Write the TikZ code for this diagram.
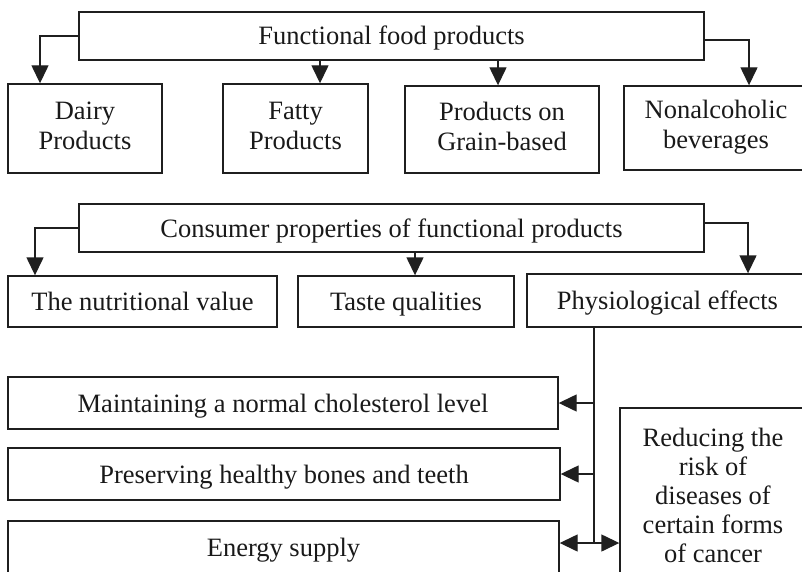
\documentclass[tikz,border=0pt]{standalone}
\usepackage{fontspec}
\setmainfont{Liberation Serif}
\usetikzlibrary{arrows.meta}
\begin{document}
\begin{tikzpicture}[x=1pt,y=-1pt,
  box/.style={draw=black!88, line width=1.4pt, inner sep=0pt, align=center,
    font=\fontsize{26.5}{30}\selectfont, text=black!90},
  one/.style={text height=18pt, text depth=0pt},
  arr/.style={draw=black!88, line width=1.4pt, -{Triangle[length=18pt,width=17pt]}},
  ln/.style={draw=black!88, line width=1.4pt}]
\useasboundingbox (0,0) rectangle (802,572);
\clip (0,0) rectangle (802,572);
% top level
\node[box,one,minimum width=625pt,minimum height=48pt] (ffp) at (391.5,36) {Functional food products};
\node[box,minimum width=154pt,minimum height=89pt] (dairy) at (85,128.5) {\strut Dairy\\Products\strut};
\node[box,minimum width=145pt,minimum height=89pt] (fatty) at (295.5,128.5) {\strut Fatty\\Products\strut};
\node[box,minimum width=194pt,minimum height=87pt] (grain) at (502,129.5) {\strut Products on\\Grain-based\strut};
\node[box,minimum width=184pt,minimum height=84pt] (nonalc) at (716,128) {\strut Nonalcoholic\\beverages\strut};
% second level
\node[box,one,minimum width=625pt,minimum height=48pt] (cons) at (391.5,228) {Consumer properties of functional products};
\node[box,one,minimum width=269pt,minimum height=51pt] (nutri) at (142.5,301.5) {The nutritional value};
\node[box,one,minimum width=216pt,minimum height=51pt] (taste) at (406,301.5) {Taste qualities};
\node[box,one,minimum width=281pt,minimum height=53pt] (physio) at (667.5,300.5) {Physiological effects};
% effects
\node[box,one,minimum width=550pt,minimum height=52pt] (maint) at (283,403) {Maintaining a normal cholesterol level};
\node[box,one,minimum width=552pt,minimum height=52pt] (pres) at (284,474) {Preserving healthy bones and teeth};
\node[box,one,minimum width=551pt,minimum height=52pt] (energy) at (283.5,547) {Energy supply};
\node[box,font=\fontsize{26.5}{29}\selectfont,minimum width=186pt,minimum height=180.4pt] (reduce) at (713,498.2)
  {\strut Reducing the\\risk of\\diseases of\\certain forms\\of cancer\strut};
% connectors
\draw[arr] (ffp.west) -| ([xshift=-45pt]dairy.north);
\draw[arr] ([xshift=24.5pt]fatty.north |- ffp.south) -- ([xshift=24.5pt]fatty.north);
\draw[arr] ([xshift=-4pt]grain.north |- ffp.south) -- ([xshift=-4pt]grain.north);
\draw[arr] ([yshift=-4pt]ffp.east) -| ([xshift=33pt]nonalc.north);
\draw[arr] (cons.west) -| ([xshift=-107.5pt]nutri.north);
\draw[arr] ([xshift=9pt]taste.north |- cons.south) -- ([xshift=9pt]taste.north);
\draw[arr] ([yshift=5pt]cons.east) -| ([xshift=80.5pt]physio.north);
\coordinate (j) at (594,543);
\draw[ln] (physio.south -| j) -- (j);
\draw[arr] (maint.east -| j) -- (maint.east);
\draw[arr] (pres.east -| j) -- (pres.east);
\draw[arr] (j) -- (j -| energy.east);
\draw[arr] (j) -- (j -| reduce.west);
\end{tikzpicture}
\end{document}
